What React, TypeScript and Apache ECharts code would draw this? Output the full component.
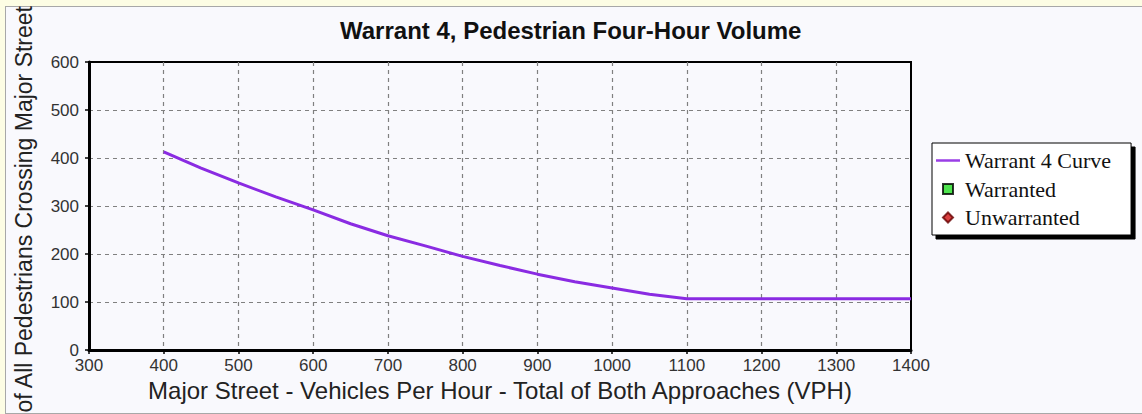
import React, { useEffect, useRef } from "react";
import * as echarts from "echarts";

// Major street volume (VPH) and the Warrant 4 curve (pedestrians per hour)
const majorStreetVph = [400, 450, 500, 550, 600, 650, 700, 750, 800, 850, 900, 950, 1000, 1050, 1100, 1400];
const warrantCurve = [413, 379, 348, 319, 292, 263, 238, 217, 195, 176, 158, 142, 129, 116, 107, 107];
const warrantedPoints: number[][] = [];
const unwarrantedPoints: number[][] = [];

const titleText = "Warrant 4, Pedestrian Four-Hour Volume";
const xAxisTitle = "Major Street - Vehicles Per Hour - Total of Both Approaches (VPH)";
const yAxisTitle = "Total of All Pedestrians Crossing Major Street";
const seriesNames = ["Warrant 4 Curve", "Warranted", "Unwarranted"];

const SANS = '"Liberation Sans", Arial, sans-serif';
const SERIF = '"Liberation Serif", "Times New Roman", serif';

export default function App() {
  const ref = useRef<HTMLDivElement>(null);

  useEffect(() => {
    document.body.style.margin = "0";
    const chart = echarts.init(ref.current!, null, { renderer: "svg" });
    const split = {
      show: true,
      showMinLine: false,
      showMaxLine: false,
      lineStyle: { color: "#808080", width: 1.2, type: [4, 4] },
    };
    chart.setOption({
      animation: false,
      title: {
        text: titleText,
        left: 335,
        top: 13,
        textStyle: { fontFamily: SANS, fontWeight: "bold", fontSize: 24, color: "#111" },
      },
      grid: {
        left: 89,
        right: 231,
        top: 62,
        bottom: 64,
        show: true,
        borderColor: "#000",
        borderWidth: 2,
        backgroundColor: "transparent",
      },
      legend: {
        orient: "vertical",
        left: 932,
        top: 143,
        padding: [6.5, 20, 6.5, 4],
        itemGap: 6.5,
        itemWidth: 24,
        itemHeight: 10,
        backgroundColor: "#fff",
        borderColor: "#000",
        borderWidth: 1,
        shadowColor: "#000",
        shadowBlur: 0,
        shadowOffsetX: 4,
        shadowOffsetY: 4,
        textStyle: { fontFamily: SERIF, fontSize: 22, lineHeight: 22, color: "#111" },
        data: [
          { name: seriesNames[0], icon: "path://M0,0 L24,0 L24,2.5 L0,2.5 Z" },
          { name: seriesNames[1], icon: "path://M0,0 L10,0 L10,10 L0,10 Z" },
          { name: seriesNames[2], icon: "path://M4,0 L8,4 L4,8 L0,4 Z" },
        ],
      },
      xAxis: {
        type: "value",
        min: 300,
        max: 1400,
        interval: 100,
        name: xAxisTitle,
        nameLocation: "middle",
        nameGap: 28,
        nameTextStyle: { fontFamily: SANS, fontSize: 24, color: "#222" },
        axisLine: { show: true, lineStyle: { color: "#000", width: 3 } },
        axisTick: { show: true, length: 4, lineStyle: { color: "#000", width: 1.5 } },
        axisLabel: {
          fontFamily: SANS,
          fontSize: 17,
          color: "#333",
          margin: 7,
          formatter: (v: number) => String(v),
        },
        splitLine: split,
      },
      yAxis: {
        type: "value",
        min: 0,
        max: 600,
        interval: 100,
        axisLine: { show: true, lineStyle: { color: "#000", width: 3 } },
        axisTick: { show: true, length: 4, lineStyle: { color: "#000", width: 1.5 } },
        axisLabel: {
          fontFamily: SANS,
          fontSize: 17,
          color: "#333",
          margin: 10,
          formatter: (v: number) => String(v),
        },
        splitLine: split,
      },
      graphic: [
        {
          type: "text",
          x: 23.5,
          y: 6,
          rotation: Math.PI / 2,
          style: {
            text: yAxisTitle,
            font: `23px ${SANS}`,
            fill: "#222",
            textAlign: "right",
            textVerticalAlign: "middle",
          },
        },
      ],
      series: [
        {
          name: seriesNames[0],
          type: "line",
          data: majorStreetVph.map((x, i) => [x, warrantCurve[i]]),
          symbol: "none",
          lineStyle: { color: "#8a2be2", width: 3 },
          itemStyle: { color: "#9a3ee6" },
          z: 5,
        },
        {
          name: seriesNames[1],
          type: "scatter",
          data: warrantedPoints,
          itemStyle: { color: "#22dd22", borderColor: "#000", borderWidth: 1 },
        },
        {
          name: seriesNames[2],
          type: "scatter",
          data: unwarrantedPoints,
          itemStyle: { color: "#d01010", borderColor: "#600", borderWidth: 1 },
        },
      ],
    });
    return () => chart.dispose();
  }, []);

  return (
    <div
      style={{
        position: "absolute",
        left: 0,
        top: 0,
        width: 1142,
        height: 414,
        background: "#fdfde4",
        overflow: "hidden",
      }}
    >
      <div
        style={{
          position: "absolute",
          left: 5,
          top: 6,
          width: 1150,
          height: 406,
          border: "1px solid #a8a8a8",
          background: "#f9f9fd",
        }}
      />
      <div ref={ref} style={{ position: "absolute", left: 0, top: 0, width: 1142, height: 414 }} />
    </div>
  );
}
